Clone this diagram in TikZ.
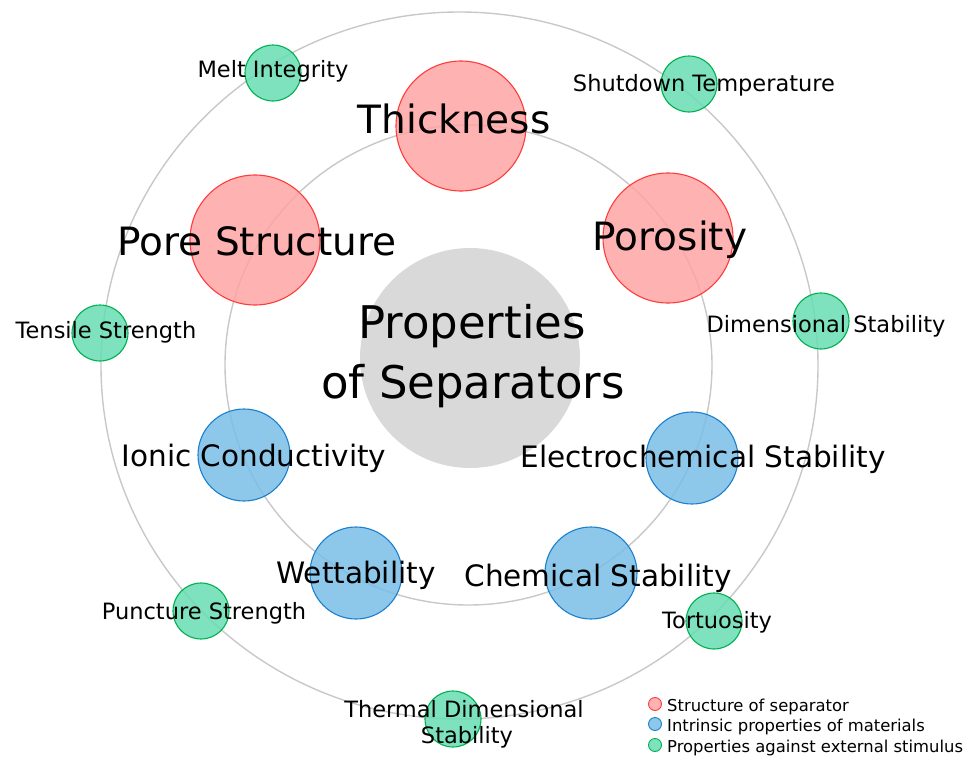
\documentclass[tikz,border=0pt]{standalone}
\usepackage{fontspec}
\setmainfont{DejaVu Sans}
\definecolor{pinkfill}{HTML}{FFA4A4}
\definecolor{pinkline}{HTML}{FF3B3B}
\definecolor{bluefill}{HTML}{79BEE7}
\definecolor{blueline}{HTML}{1C80CC}
\definecolor{greenfill}{HTML}{67DDB3}
\definecolor{greenline}{HTML}{00B050}
\definecolor{ringgray}{HTML}{C8C8C8}
\definecolor{centergray}{HTML}{D9D9D9}
\begin{document}
\begin{tikzpicture}[x=1pt,y=-1pt,
  ring/.style={draw=ringgray,line width=1.4pt},
  bubble/.style={circle,inner sep=0pt,fill opacity=0.85,line width=1.1pt},
  pinkb/.style={bubble,fill=pinkfill,draw=pinkline,minimum size=130pt},
  blueb/.style={bubble,fill=bluefill,draw=blueline,minimum size=92pt},
  greenb/.style={bubble,fill=greenfill,draw=greenline,minimum size=56pt},
  legb/.style={circle,inner sep=0pt,minimum size=13pt,line width=0.9pt,fill opacity=0.85},
  biglab/.style={anchor=base,inner sep=0pt,font=\fontsize{39}{44}\selectfont},
  midlab/.style={anchor=base,inner sep=0pt,font=\fontsize{29.5}{34}\selectfont},
  smalllab/.style={anchor=base,inner sep=0pt,font=\fontsize{22.5}{26}\selectfont},
  centerlab/.style={anchor=base,inner sep=0pt,font=\fontsize{45}{50}\selectfont},
  leglab/.style={anchor=base west,inner sep=0pt,font=\fontsize{16.4}{19}\selectfont}]
\useasboundingbox (0,0) rectangle (980,771);
% rings
\draw[ring] (459.5,365.5) ellipse [x radius=358.5, y radius=353.5];
\draw[ring] (468.5,365) ellipse [x radius=243.5, y radius=240];
% center
\node[circle,fill=centergray,minimum size=220pt,inner sep=0pt] (center) at (470,358) {};
% pink
\node[pinkb] (thick) at (461,126) {};
\node[pinkb] (pore) at (255,240) {};
\node[pinkb] (poros) at (668,238) {};
% blue
\node[blueb] (ionic) at (244,455) {};
\node[blueb] (electro) at (692,458) {};
\node[blueb] (wett) at (356,573) {};
\node[blueb] (chem) at (591,573) {};
% green
\node[greenb] (melt) at (273,73) {};
\node[greenb] (shut) at (689,84) {};
\node[greenb] (tens) at (100,333) {};
\node[greenb] (dim) at (821,321) {};
\node[greenb] (punc) at (201,611) {};
\node[greenb] (tort) at (714,621) {};
\node[greenb] (therm) at (453,719) {};
% labels
\node[centerlab] (tprop) at (472,338) {Properties};
\node[centerlab] (tsep) at (473,398) {of Separators};
\node[biglab] (tthick) at (454,133) {Thickness};
\node[biglab] (tpore) at (257,255) {Pore Structure};
\node[biglab] (tporos) at (670,250) {Porosity};
\node[midlab] (tionic) at (254,466) {Ionic Conductivity};
\node[midlab] (telectro) at (703,467) {Electrochemical Stability};
\node[midlab] (twett) at (356,583) {Wettability};
\node[midlab] (tchem) at (598,586) {Chemical Stability};
\node[smalllab] (tmelt) at (273,77) {Melt Integrity};
\node[smalllab] (tshut) at (704,91) {Shutdown Temperature};
\node[smalllab] (ttens) at (106,338) {Tensile Strength};
\node[smalllab] (tdim) at (826,332) {Dimensional Stability};
\node[smalllab] (tpunc) at (204,619) {Puncture Strength};
\node[smalllab] (ttort) at (717,628) {Tortuosity};
\node[smalllab] (ttherm) at (464,717) {Thermal Dimensional};
\node[smalllab] (ttherm2) at (467,743) {Stability};
% legend
\node[legb,fill=pinkfill,draw=pinkline] (lg1) at (655,704) {};
\node[legb,fill=bluefill,draw=blueline] (lg2) at (655,724) {};
\node[legb,fill=greenfill,draw=greenline] (lg3) at (655,745) {};
\node[leglab] (lt1) at (667,711) {Structure of separator};
\node[leglab] (lt2) at (667,731) {Intrinsic properties of materials};
\node[leglab] (lt3) at (667,752) {Properties against external stimulus};
\end{tikzpicture}
\end{document}
